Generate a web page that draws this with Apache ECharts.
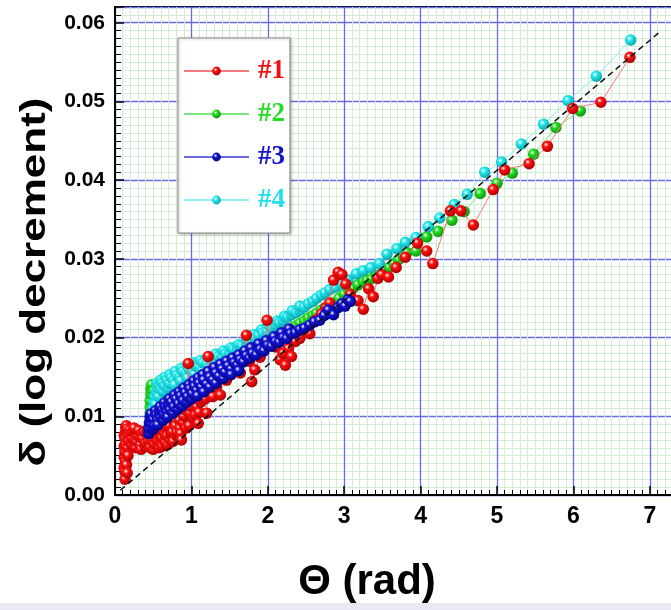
<!DOCTYPE html>
<html>
<head>
<meta charset="utf-8">
<script src="https://cdn.jsdelivr.net/npm/echarts@6/dist/echarts.min.js"></script>
<style>
html,body{margin:0;padding:0;background:#fff;}
#chart{width:671px;height:610px;}
</style>
</head>
<body>
<div id="chart"></div>
<script>
// ---- data ----
const seriesNames = ['#1', '#2', '#3', '#4'];

const s1 = [
[0.13,0.0020],[0.13,0.0030],[0.14,0.0042],[0.13,0.0055],[0.14,0.0064],[0.13,0.0072],[0.14,0.0080],[0.15,0.0088],
[0.16,0.0084],[0.17,0.0075],[0.18,0.0068],[0.16,0.0060],[0.17,0.0050],[0.15,0.0038],[0.16,0.0028],
[0.12,0.0035],[0.12,0.0048],[0.12,0.0062],[0.12,0.0076],[0.14,0.0086],[0.19,0.0082],[0.21,0.0065],[0.23,0.0080],
[0.26,0.0070],[0.27,0.0060],[0.31,0.0082],[0.34,0.0058],[0.35,0.0078],[0.39,0.0062],[0.42,0.0082],[0.44,0.0068],
[0.47,0.0078],[0.50,0.0058],[0.53,0.0072],[0.55,0.0083],[0.59,0.0068],[0.62,0.0062],[0.65,0.0078],[0.67,0.0085],
[0.69,0.0064],[0.73,0.0077],[0.76,0.0068],[0.79,0.0088],[0.81,0.0080],[0.84,0.0095],[0.86,0.0078],[0.90,0.0100],
[0.93,0.0085],[0.98,0.0104],[1.03,0.0098],[1.10,0.0105],[1.14,0.0122],
[0.20,0.0078],[0.22,0.0072],[0.25,0.0085],[0.28,0.0068],[0.30,0.0075],[0.33,0.0063],[0.36,0.0072],[0.38,0.0080],
[0.40,0.0066],[0.43,0.0074],[0.46,0.0060],[0.48,0.0070],[0.51,0.0065],[0.54,0.0078],[0.56,0.0068],[0.58,0.0060],
[0.61,0.0073],[0.63,0.0082],[0.66,0.0066],[0.68,0.0075],[0.70,0.0088],[0.72,0.0070],[0.75,0.0080],[0.77,0.0094],
[0.80,0.0076],[0.82,0.0102],[0.85,0.0085],[0.87,0.0070],[0.89,0.0092],[0.92,0.0108],[0.96,0.0167],[0.97,0.0088],
[1.00,0.0112],[1.02,0.0120],[1.05,0.0102],[1.07,0.0112],[1.09,0.0091],[1.12,0.0118],[1.15,0.0130],[1.18,0.0122],
[1.20,0.0104],[1.22,0.0176],[1.25,0.0140],[1.28,0.0125],[1.33,0.0138],[1.37,0.0165],[1.38,0.0127],[1.40,0.0150],[1.46,0.0146],
[1.52,0.0158],[1.58,0.0162],[1.64,0.0155],[1.72,0.0203],[1.76,0.0170],[1.79,0.0144],[1.83,0.0159],[1.90,0.0175],
[1.95,0.0185],[1.99,0.0222],[2.05,0.0195],[2.10,0.0188],[2.16,0.0172],[2.20,0.0180],[2.23,0.0165],[2.27,0.0186],
[2.31,0.0176],[2.36,0.0195],[2.42,0.0199],[2.48,0.0210],[2.55,0.0205],[2.62,0.0222],[2.70,0.0230],[2.76,0.0238],
[2.81,0.0244],[2.86,0.0273],[2.92,0.0283],[2.97,0.0280],[3.02,0.0268],[3.08,0.0255],[3.18,0.0247],[3.25,0.0236],
[3.32,0.0262],[3.38,0.0252],[3.44,0.0275],[3.49,0.0280],[3.58,0.0277],[3.68,0.0289],[3.80,0.0302],[3.96,0.0320],
[4.08,0.0310],[4.16,0.0294],[4.39,0.0361],[4.53,0.0361],[4.69,0.0343],[4.95,0.0388],[5.10,0.0413],[5.42,0.0421],
[5.66,0.0443],[5.99,0.0491],[6.36,0.0499],[6.74,0.0556]
];

const s2 = [
[0.46,0.0104],[0.46,0.0112],[0.46,0.0120],[0.47,0.0128],[0.47,0.0135],[0.48,0.0140],[0.50,0.0132],[0.52,0.0124],
[0.54,0.0118],[0.56,0.0113],[0.58,0.0120],[0.61,0.0117],[0.64,0.0123],[0.68,0.0125],[0.72,0.0128],[0.76,0.0131],
[0.80,0.0133],[0.85,0.0136],[0.89,0.0138],[0.94,0.0141],[0.99,0.0143],[1.04,0.0146],[1.11,0.0148],[1.16,0.0152],
[1.22,0.0155],[1.28,0.0158],[1.33,0.0161],[1.39,0.0164],[1.44,0.0167],[1.50,0.0170],[1.55,0.0172],[1.61,0.0175],
[1.66,0.0178],[1.72,0.0181],[1.77,0.0184],[1.83,0.0187],[1.88,0.0190],[1.94,0.0193],[1.99,0.0195],[2.05,0.0198],
[2.10,0.0201],[2.15,0.0203],[2.20,0.0205],[2.26,0.0209],[2.31,0.0212],[2.37,0.0215],[2.42,0.0218],[2.48,0.0221],
[2.53,0.0225],[2.59,0.0228],[2.64,0.0231],[2.70,0.0235],[2.75,0.0238],[2.81,0.0241],[2.86,0.0244],[2.93,0.0250],
[3.00,0.0255],[3.06,0.0260],[3.12,0.0263],[3.18,0.0267],[3.25,0.0271],[3.30,0.0273],[3.36,0.0275],[3.42,0.0278],
[3.47,0.0280],[3.53,0.0285],[3.59,0.0289],[3.65,0.0294],[3.71,0.0299],[3.77,0.0304],[3.82,0.0308],[3.94,0.0310],
[4.08,0.0328],[4.23,0.0335],[4.41,0.0349],[4.57,0.0360],[4.78,0.0383],[5.00,0.0396],[5.20,0.0409],[5.48,0.0433],
[5.77,0.0467],[6.09,0.0488],
[0.55,0.0108],[0.62,0.0111],[0.70,0.0118],[0.78,0.0124],[0.86,0.0129],[0.95,0.0134],[1.05,0.0139],[1.15,0.0145],
[1.25,0.0150],[1.35,0.0155],[1.45,0.0160],[1.55,0.0165],[1.65,0.0171],[1.75,0.0176],[1.85,0.0181],[1.95,0.0186],
[2.05,0.0191],[2.15,0.0196],[2.25,0.0202],[2.35,0.0207],[2.45,0.0212],[2.55,0.0218],[2.65,0.0224],[2.75,0.0230]
];

const s3 = [
[0.44,0.0078],[0.44,0.0085],[0.45,0.0092],[0.46,0.0099],[0.48,0.0090],[0.50,0.0096],[0.52,0.0088],[0.54,0.0102],
[0.56,0.0095],[0.58,0.0106],[0.60,0.0098],[0.62,0.0108],[0.64,0.0102],[0.66,0.0112],[0.68,0.0105],[0.70,0.0115],
[0.72,0.0108],[0.74,0.0118],[0.77,0.0112],[0.80,0.0122],[0.83,0.0116],[0.86,0.0126],[0.89,0.0120],[0.92,0.0130],
[0.95,0.0125],[0.98,0.0135],[1.01,0.0129],[1.04,0.0138],[1.07,0.0133],[1.10,0.0142],[1.13,0.0137],[1.16,0.0146],
[1.20,0.0141],[1.24,0.0150],[1.28,0.0146],[1.32,0.0155],[1.36,0.0151],[1.40,0.0160],[1.44,0.0156],[1.48,0.0164],
[1.52,0.0160],[1.56,0.0168],[1.60,0.0165],[1.64,0.0172],[1.68,0.0169],[1.72,0.0177],[1.76,0.0174],[1.80,0.0180],
[1.85,0.0178],[1.90,0.0185],[1.95,0.0183],[2.00,0.0190],[2.05,0.0189],[2.10,0.0195],[2.15,0.0194],[2.20,0.0200],
[2.25,0.0199],[2.30,0.0205],[2.36,0.0206],[2.42,0.0210],[2.48,0.0212],[2.55,0.0216],[2.61,0.0220],[2.68,0.0222],
[2.74,0.0228],[2.79,0.0235],[2.86,0.0229],[2.92,0.0238],[2.97,0.0243],[3.01,0.0240],[3.05,0.0248],[3.08,0.0246],
[0.47,0.0103],[0.53,0.0107],[0.59,0.0112],[0.65,0.0117],[0.71,0.0122],[0.78,0.0127],[0.84,0.0131],[0.90,0.0136],
[0.97,0.0140],[1.03,0.0145],[1.09,0.0149],[1.15,0.0153],[1.22,0.0157],[1.30,0.0162],[1.38,0.0166],[1.46,0.0170],
[1.54,0.0174],[1.62,0.0178],[1.70,0.0183],[1.78,0.0187],[1.88,0.0192],[1.98,0.0196],[2.08,0.0201],[2.18,0.0206],
[2.28,0.0211],
[0.50,0.0084],[0.56,0.0089],[0.63,0.0095],[0.69,0.0099],[0.76,0.0104],[0.82,0.0109],[0.88,0.0113],[0.94,0.0118],
[1.00,0.0122],[1.08,0.0126],[1.16,0.0131],[1.24,0.0137],[1.32,0.0142],[1.42,0.0148],[1.52,0.0153],[1.62,0.0158]
];

const s4 = [
[0.50,0.0110],[0.51,0.0118],[0.52,0.0125],[0.54,0.0131],[0.56,0.0136],[0.58,0.0140],[0.60,0.0134],[0.62,0.0143],
[0.65,0.0139],[0.68,0.0146],[0.71,0.0142],[0.74,0.0149],[0.77,0.0146],[0.81,0.0152],[0.85,0.0150],[0.89,0.0157],
[0.93,0.0155],[0.97,0.0160],[1.01,0.0158],[1.05,0.0164],[1.10,0.0163],[1.15,0.0168],[1.20,0.0167],[1.25,0.0172],
[1.30,0.0171],[1.35,0.0176],[1.40,0.0176],[1.45,0.0180],[1.50,0.0181],[1.55,0.0185],[1.60,0.0186],[1.66,0.0190],
[1.72,0.0193],[1.77,0.0197],[1.83,0.0200],[1.88,0.0203],[1.94,0.0206],[1.99,0.0208],[2.05,0.0213],[2.10,0.0216],
[2.15,0.0219],[2.20,0.0222],[2.26,0.0226],[2.31,0.0229],[2.37,0.0232],[2.42,0.0235],[2.48,0.0239],[2.53,0.0243],
[2.59,0.0246],[2.64,0.0250],[2.70,0.0254],[2.75,0.0257],[2.81,0.0261],[2.88,0.0264],[2.97,0.0268],[3.05,0.0273],
[3.16,0.0281],[3.25,0.0285],[3.35,0.0289],[3.46,0.0294],[3.56,0.0306],[3.69,0.0313],[3.80,0.0321],[3.94,0.0327],
[4.10,0.0341],[4.25,0.0352],[4.44,0.0369],[4.61,0.0382],[4.84,0.0410],[5.06,0.0423],[5.32,0.0446],[5.61,0.0471],
[5.93,0.0501],[6.30,0.0532],[6.75,0.0578],
[0.55,0.0142],[0.60,0.0146],[0.66,0.0150],[0.72,0.0153],[0.79,0.0157],[0.87,0.0161],[0.95,0.0165],[1.03,0.0168],
[1.12,0.0171],[1.22,0.0175],[1.32,0.0179],[1.42,0.0183],[1.52,0.0187],[1.62,0.0191],[1.72,0.0198],[1.82,0.0204],
[1.92,0.0210],[2.02,0.0215],[2.12,0.0221],[2.22,0.0227],[2.32,0.0234],[2.42,0.0240],
[0.53,0.0115],[0.57,0.0125],[0.63,0.0132],[0.70,0.0136],[0.78,0.0140],[0.86,0.0145],[0.95,0.0149],[1.04,0.0154],
[1.14,0.0158],[1.24,0.0163],[1.34,0.0168]
];

const refLine = [[0.07,0.0006],[7.15,0.0590]];

const xTitle = 'Θ (rad)';
const yTitle = 'δ (log decrement)';

// ---- styling ----
function ball(c, dark) {
  return {type:'radial', x:0.38, y:0.35, r:0.72,
    colorStops:[{offset:0,color:'#ffffff'},{offset:0.3,color:c},{offset:1,color:dark}]};
}
const styles = {
  '#1': {ball: ball('#ff1010','#a00000'), line:'#f27a7a', text:'#ee1111'},
  '#2': {ball: ball('#22e022','#0a8a0a'), line:'#7ae87a', text:'#22dd22'},
  '#3': {ball: ball('#1414d8','#00006e'), line:'#6a6ae0', text:'#1414cc'},
  '#4': {ball: ball('#22eaee','#0a9aa0'), line:'#8af0f2', text:'#22e0e8'}
};
function byX(a){ return a.slice().sort(function(p,q){ return p[0]-q[0]; }); }
const dataMap = {'#1': byX(s1), '#2': byX(s2), '#3': byX(s3), '#4': byX(s4)};
const drawOrder = ['#2', '#4', '#1', '#3'];

const chart = echarts.init(document.getElementById('chart'), null, {renderer:'canvas'});

function fmt(d){
  return function(v){
    const k = v * Math.pow(10, d);
    return Math.abs(k - Math.round(k)) < 1e-6 ? v.toFixed(d) : '';
  };
}

const series = drawOrder.map(function(n, i){
  return {
    name: n, type: 'line', data: dataMap[n],
    symbol: 'circle', symbolSize: 11.5, showSymbol: true, showAllSymbol: true,
    itemStyle: {color: styles[n].ball},
    lineStyle: {color: styles[n].line, width: 1},
    emphasis: {disabled: true},
    z: 3 + i
  };
});
series.push({
  name: 'ref', type: 'line', data: refLine, symbol: 'none',
  lineStyle: {color: '#111', width: 1.5, type: [6, 4]}, z: 10, silent: true
});

chart.setOption({
  animation: false,
  backgroundColor: '#ffffff',
  grid: {left: 115, top: 7, width: 573, height: 488, show: true, outerBoundsMode: 'none',
         borderColor: '#000', borderWidth: 2, backgroundColor: 'transparent', containLabel: false},
  legend: {
    data: seriesNames.map(function(n){ return {name: n, textStyle: {color: styles[n].text}}; }),
    orient: 'vertical', left: 178, top: 38,
    itemWidth: 65, itemHeight: 11, itemGap: 13,
    padding: [18, 5, 18, 5],
    backgroundColor: '#ffffff', borderColor: '#8a8a8a', borderWidth: 1,
    shadowColor: 'rgba(0,0,0,0.25)', shadowBlur: 3, shadowOffsetX: 1, shadowOffsetY: 1,
    textStyle: {fontFamily: 'Liberation Serif', fontWeight: 'bold', fontSize: 27, lineHeight: 30, padding: [0,0,0,4]},
    selectedMode: false
  },
  xAxis: {
    type: 'value', min: 0, max: 7.5, interval: 1,
    axisLine: {show: true, lineStyle: {color: '#000', width: 2}},
    axisTick: {show: true, inside: true, length: 9, lineStyle: {color: '#000', width: 1.5}},
    minorTick: {show: true, splitNumber: 10, length: 5, lineStyle: {color: '#000', width: 1}},
    splitLine: {show: true, lineStyle: {color: '#6a6ae6', width: 1.3}},
    minorSplitLine: {show: true, lineStyle: {color: '#d2eed2', width: 1}},
    axisLabel: {formatter: fmt(0), color: '#000', fontFamily: 'Liberation Sans', fontWeight: 'bold', fontSize: 23, margin: 10}
  },
  yAxis: {
    type: 'value', min: 0, max: 0.062, interval: 0.01,
    axisLine: {show: true, lineStyle: {color: '#000', width: 2}},
    axisTick: {show: true, inside: true, length: 9, lineStyle: {color: '#000', width: 1.5}},
    minorTick: {show: true, splitNumber: 10, length: 6, lineStyle: {color: '#000', width: 1}},
    splitLine: {show: true, lineStyle: {color: '#6a6ae6', width: 1.3}},
    minorSplitLine: {show: true, lineStyle: {color: '#d2eed2', width: 1}},
    axisLabel: {formatter: fmt(2), color: '#000', fontFamily: 'Liberation Sans', fontWeight: 'bold', fontSize: 21, margin: 10}
  },
  graphic: [
    {type: 'rect', shape: {x: 0, y: 603, width: 671, height: 7}, style: {fill: '#e9e9f6'}, z: -1},
    {type: 'text', x: 367, y: 582, style: {text: xTitle, fontFamily: 'Liberation Sans', fontWeight: 'bold',
      fontSize: 42, fill: '#000', textAlign: 'center', textVerticalAlign: 'middle'}},
    {type: 'text', x: 35, y: 282, rotation: Math.PI / 2, scaleY: 0.8,
      style: {text: yTitle, fontFamily: 'Liberation Sans', fontWeight: 'bold',
      fontSize: 44, fill: '#000', textAlign: 'center', textVerticalAlign: 'middle'}}
  ],
  series: series
});
</script>
</body>
</html>
